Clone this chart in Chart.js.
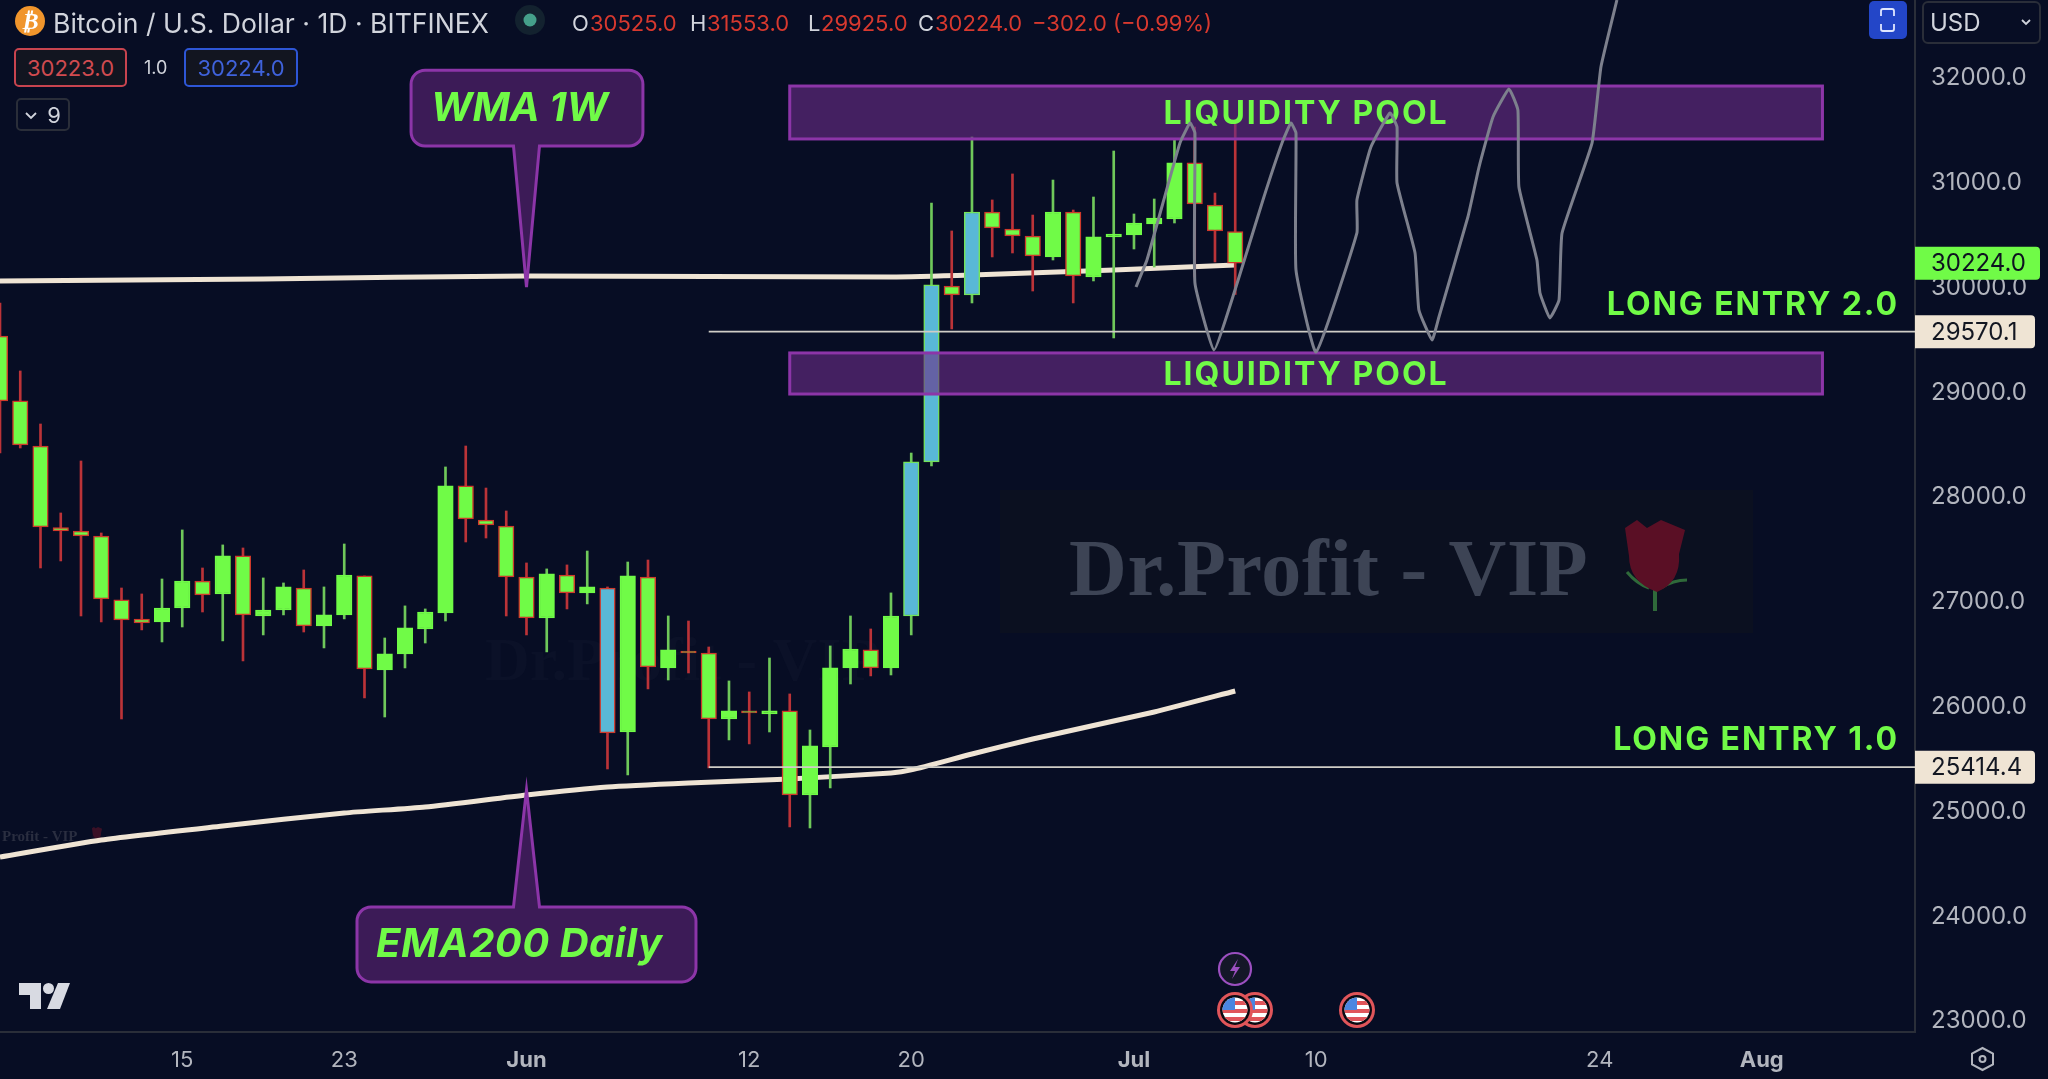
<!DOCTYPE html>
<html><head><meta charset="utf-8">
<script src="https://cdn.jsdelivr.net/npm/chart.js@4/dist/chart.umd.min.js"></script>
<style>
html,body{margin:0;padding:0;background:#070d24;width:2048px;height:1079px;overflow:hidden;font-family:Inter,Roboto,sans-serif}
#c{position:absolute;left:0;top:0}
.t{position:absolute;white-space:nowrap;line-height:1}
.box{position:absolute;box-sizing:border-box;display:flex;align-items:center;justify-content:center}
svg{position:absolute;left:0;top:0;pointer-events:none}
</style></head><body>
<canvas id="c" width="2048" height="1079" style="width:2048px;height:1079px"></canvas>
<div id="hud"></div>
<svg width="2048" height="1079" viewBox="0 0 2048 1079">
 <defs><clipPath id="fc"><circle cx="0" cy="0" r="12.5"/></clipPath>
 <g id="flag">
  <circle r="18" fill="#e0555a"/><circle r="15" fill="#0a0a12"/>
  <g clip-path="url(#fc)"><rect x="-13" y="-13" width="26" height="26" fill="#fff"/>
   <rect x="-13" y="-9" width="26" height="4" fill="#e0555a"/><rect x="-13" y="-1" width="26" height="4" fill="#e0555a"/><rect x="-13" y="7" width="26" height="4" fill="#e0555a"/>
   <rect x="-13" y="-13" width="13" height="13" fill="#4a86e0"/></g>
 </g></defs>
 <circle cx="30" cy="21" r="15" fill="#f0952c"/>
 <circle cx="530" cy="20" r="15" fill="#13222f"/><circle cx="530" cy="20" r="6.5" fill="#45a08a"/>
 <rect x="1869" y="1" width="38" height="38" rx="5" fill="#2346c8"/>
 <path d="M1881 16v-5q0-2 2-2h9q2 0 2 2v5M1881 24v5q0 2 2 2h9q2 0 2-2v-5" fill="none" stroke="#dfe6ff" stroke-width="1.8"/>
 <path d="M2022 20l4 4 4-4" fill="none" stroke="#d1d4dc" stroke-width="1.8"/>
 <path d="M26 113l5 5 5-5" fill="none" stroke="#d1d4dc" stroke-width="1.8"/>
 <path d="M19 983h22v26h-11v-14h-11z" fill="#d8dae2"/><circle cx="48.5" cy="988.5" r="5.5" fill="#d8dae2"/><path d="M58 983h12l-10 26h-13z" fill="#d8dae2"/>
 <use href="#flag" x="1255" y="1010"/><use href="#flag" x="1235" y="1010"/><use href="#flag" x="1357" y="1010"/>
 <circle cx="1235" cy="969" r="16" fill="#141728" stroke="#9b4fc0" stroke-width="2.2"/>
 <path d="M1238 959l-8 12h5l-3 8 8-12h-5z" fill="#9b4fc0"/>
 <path d="M1982.5 1048l10.5 5.5v11l-10.5 5.5-10.5-5.5v-11z" fill="none" stroke="#b2b5be" stroke-width="2"/><circle cx="1982.5" cy="1059" r="3" fill="none" stroke="#b2b5be" stroke-width="2"/>
</svg>
<script>
const candleIndex=[...Array(62).keys()];
const opens=[29529,28909,28479,27700,27668,27620,27010,26828,26800,26933,27191,27067,27430,26857,26914,27124,26762,26867,27239,26342,26495,26733,26886,28098,27773,27716,27229,26838,27248,27077,27124,25750,27229,26361,26523,26504,25874,25951,25922,25951,25149,25607,26361,26533,26361,26857,28327,30006,29920,30712,30550,30483,30283,30712,30092,30474,30493,30598,30645,31180,30779,30525];
const highs=[29844,29195,28689,27840,28336,27649,27124,27067,27210,27678,27315,27535,27506,27220,27172,27296,27134,27544,27239,26647,26953,26924,28279,28479,28078,27859,27363,27306,27344,27477,27134,27372,27391,26857,26809,26561,26237,26132,26456,26113,25769,26571,26857,26733,27077,28412,30798,30531,31428,30827,31075,30683,31017,30731,30855,31294,30693,30836,31399,31523,30893,31553];
const lows=[28412,28460,27315,27382,26857,26800,25874,26724,26609,26752,26895,26619,26428,26676,26867,26704,26552,26829,26075,25893,26361,26599,26809,27563,27601,26857,26676,26514,26924,26972,25397,25340,26161,26246,26313,25407,25674,25636,25750,24844,24834,25216,26208,26285,26294,26676,28288,29596,29844,30283,30321,29958,30254,29844,30054,29510,30359,30187,30607,30092,30235,29925];
const closes=[28909,28489,27706,27668,27620,27019,26819,26790,26933,27191,27058,27430,26867,26914,27134,26762,26867,27248,26351,26495,26743,26895,28098,27783,27725,27229,26838,27258,27077,27134,25741,27239,26370,26533,26504,25874,25951,25932,25951,25149,25617,26361,26542,26361,26857,28327,30016,29920,30712,30559,30483,30292,30712,30101,30474,30502,30607,30655,31180,30788,30531,30224];
const blueCandles=[30,45,46,48];
const emaIndex=[0,5,11,17,21,26,30,34,39,44,45,48,51,57,61];
const emaValues=[24557,24720,24853,24977,25035,25149,25225,25264,25302,25359,25388,25540,25683,25941,26141];
const wmaIndex=[0,13,26,44,48,55,61];
const wmaValues=[30054,30073,30101,30092,30111,30159,30206];
const sketchIndex=[56.1,56.64,57.43,58.27,58.77,59.01,59.01,59.95,60.99,62.37,63.31,63.75,64,64,64.99,67.01,67.01,67.7,68.64,68.99,68.99,69.88,70.07,70.72,71.06,72.49,73.04,73.73,74.52,74.96,75.01,75.9,76.05,76.54,76.99,77.14,78.62,79.06,79.85];
const sketchValues=[29996,30254,30798,31370,31561,31466,30035,29395,29968,30827,31370,31561,31466,30159,29376,30512,30827,31332,31657,31523,30989,30321,29777,29491,29710,30664,31141,31619,31886,31685,30951,30254,29939,29701,29872,30512,31370,32096,32735];
const entryStart=35;
const longEntry2=29570.1, longEntry1=25414.4, lastPrice=30224.0;
const yTicks=[23000,24000,25000,26000,27000,28000,29000,30000,31000,32000];
const xTicks=[9,17,26,37,45,56,65,79,87];
const xLabels=['15','23','Jun','12','20','Jul','10','24','Aug'];
const majorLabels=['Jun','Jul','Aug'];
const pools=[[39,90,31914,31409],[39,90,29367,28975]];
const poolText='LIQUIDITY POOL';
const GREEN='#70fb47',RED='#cf3a2b',BLUE='#59b8d6',GB='#74e35a',CREAM='#efe4d4';
const isUp=i=>closes[i]>=opens[i];
const toPts=(xs,ys)=>xs.map((x,i)=>({x,y:ys[i]}));

const overlay={id:'overlay',
 beforeDatasetsDraw(ch){
  const c=ch.ctx;c.save();
  c.fillStyle='#0b1020';c.fillRect(1000,490,753,143);
  c.fillStyle='#3d4455';c.font='bold 80px "Liberation Serif"';c.textBaseline='alphabetic';c.textAlign='left';
  c.letterSpacing='0.7px';c.fillText('Dr.Profit - VIP',1069,595);c.letterSpacing='0px';
  rose(c,1655,520,1,'#5a0f25','#2f6a3a');
  c.fillStyle='#0b1128';c.font='bold 62px "Liberation Serif"';c.fillText('Dr.Profit - VIP',485,680);
  c.fillStyle='#2a2e40';c.font='bold 15px "Liberation Serif"';c.fillText('Profit - VIP',2,841);
  rose(c,97,827,0.17,'#3a1026','#3a1026');
  c.restore();
 },
 beforeDatasetDraw(ch,a){
  if(ch.data.datasets[a.index].id!=='sketch')return;
  const c=ch.ctx,X=ch.scales.x,Y=ch.scales.y;c.save();
  pools.forEach(p=>{const l=X.getPixelForValue(p[0]),r=X.getPixelForValue(p[1]),t=Y.getPixelForValue(p[2]),b=Y.getPixelForValue(p[3]);
   c.fillStyle='rgba(106,45,135,0.62)';c.fillRect(l,t,r-l,b-t);
   c.strokeStyle='#8c35a8';c.lineWidth=3;c.strokeRect(l,t,r-l,b-t);
   c.fillStyle=GREEN;c.font='700 32px Inter';c.letterSpacing='2px';c.textAlign='center';c.textBaseline='alphabetic';
   c.fillText(poolText,(l+r)/2,(t+b)/2+12);});
  c.restore();
 },
 afterDatasetsDraw(ch){
  const c=ch.ctx,X=ch.scales.x,Y=ch.scales.y;c.save();
  c.fillStyle=GREEN;c.font='700 32px Inter';c.letterSpacing='1.9px';c.textAlign='right';c.textBaseline='alphabetic';
  c.fillText('LONG ENTRY 2.0',1899,315);c.fillText('LONG ENTRY 1.0',1899,750);
  c.letterSpacing='0px';
  callout(c,X,Y,20.3,31.75,32065,31342,26,29996,false,'WMA 1W',0);
  callout(c,X,Y,17.63,34.37,24080,23365,26,25197,true,'EMA200 Daily',0.5);
  c.restore();
 },
 afterDraw(ch){
  const c=ch.ctx,Y=ch.scales.y;c.save();
  tag(c,Y,lastPrice,GREEN,2040,'#0e1220');
  tag(c,Y,longEntry2,CREAM,2035,'#131722');
  tag(c,Y,longEntry1,CREAM,2035,'#131722');
  c.restore();
 }};
function rose(c,x,t,s,red,grn){
 c.save();c.translate(x,t);c.scale(s,s);c.fillStyle=grn;c.fillRect(-2,65,4,26);
 c.strokeStyle=grn;c.lineWidth=3;c.beginPath();c.moveTo(-6,68);c.quadraticCurveTo(-18,64,-28,52);c.moveTo(6,68);c.quadraticCurveTo(18,60,32,60);c.stroke();
 c.fillStyle=red;c.beginPath();c.moveTo(-30,8);c.lineTo(-18,0);c.lineTo(-8,8);c.lineTo(6,0);c.lineTo(30,10);c.lineTo(24,34);c.quadraticCurveTo(26,62,2,72);c.quadraticCurveTo(-26,62,-26,36);c.closePath();c.fill();
 c.restore();
}
function callout(c,X,Y,li,ri,tv,bv,ti,tipV,up,text,sp){
 const l=X.getPixelForValue(li),r=X.getPixelForValue(ri),t=Y.getPixelForValue(tv),b=Y.getPixelForValue(bv),tx=X.getPixelForValue(ti),ty=Y.getPixelForValue(tipV),R=14,w=13;
 c.beginPath();c.moveTo(l+R,t);
 if(up){c.lineTo(tx-w,t);c.lineTo(tx,ty);c.lineTo(tx+w,t);}
 c.lineTo(r-R,t);c.arcTo(r,t,r,t+R,R);c.lineTo(r,b-R);c.arcTo(r,b,r-R,b,R);
 if(!up){c.lineTo(tx+w,b);c.lineTo(tx,ty);c.lineTo(tx-w,b);}
 c.lineTo(l+R,b);c.arcTo(l,b,l,b-R,R);c.lineTo(l,t+R);c.arcTo(l,t,l+R,t,R);c.closePath();
 c.fillStyle='#3c1b57';c.fill();c.strokeStyle='#8c35a8';c.lineWidth=3;c.stroke();
 c.fillStyle=GREEN;c.font='italic 700 40px Inter';c.textBaseline='alphabetic';c.textAlign='left';c.letterSpacing=sp+'px';
 c.fillText(text,up?l+19:l+20,up?b-25:t+51);c.letterSpacing='0px';
}
function tag(c,Y,v,col,right,txt){
 const y=Y.getPixelForValue(v),h=33;
 c.fillStyle=col;c.beginPath();c.roundRect(1915,y-h/2,right-1915,h,[0,4,4,0]);c.fill();
 c.fillStyle=txt;c.font='24px Inter';c.textAlign='left';c.textBaseline='middle';
 c.fillText(v.toFixed(1),1931,y+1);
}

new Chart(document.getElementById('c'),{
 data:{datasets:[
  {id:'ema',type:'line',data:toPts(emaIndex,emaValues),borderColor:CREAM,borderWidth:5,pointRadius:0,tension:0.2,order:50},
  {id:'wma',type:'line',data:toPts(wmaIndex,wmaValues),borderColor:CREAM,borderWidth:5,pointRadius:0,tension:0.2,order:50},
  {id:'wicks',type:'bar',grouped:false,barThickness:2,data:candleIndex.map(i=>({x:i,y:[lows[i],highs[i]]})),
   backgroundColor:candleIndex.map(i=>isUp(i)?'#6fc85a':'#bb3338'),borderWidth:0,order:40},
  {id:'bodies',type:'bar',grouped:false,barThickness:15.5,data:candleIndex.map(i=>({x:i,y:[opens[i],closes[i]]})),
   backgroundColor:candleIndex.map(i=>blueCandles.includes(i)?BLUE:GREEN),
   borderColor:candleIndex.map(i=>isUp(i)?(blueCandles.includes(i)?GB:GREEN):RED),borderWidth:1.5,borderSkipped:false,order:30},
  {id:'entry2',type:'line',data:toPts([entryStart,94.57],[longEntry2,longEntry2]),borderColor:'#cfcdc6',borderWidth:1.6,pointRadius:0,order:20},
  {id:'entry1',type:'line',data:toPts([entryStart,94.57],[longEntry1,longEntry1]),borderColor:'#cfcdc6',borderWidth:1.6,pointRadius:0,order:20},
  {id:'sketch',type:'line',data:toPts(sketchIndex,sketchValues),borderColor:'#7d808d',borderWidth:3,pointRadius:0,tension:0.12,order:10}
 ]},
 options:{responsive:false,animation:false,devicePixelRatio:1,
  layout:{padding:0},
  plugins:{legend:{display:false},tooltip:{enabled:false}},
  scales:{
   x:{type:'linear',min:0,max:94.57,offset:false,position:'bottom',
    afterBuildTicks(s){s.ticks=xTicks.map(v=>({value:v}));},
    afterFit(s){s.height=47;s.paddingLeft=0;s.paddingRight=0;s.paddingTop=0;s.paddingBottom=0;},
    border:{display:true,color:'#2a2e39',width:2},grid:{display:false,offset:false},
    ticks:{autoSkip:false,maxRotation:0,padding:7,color:'#b2b5be',
     callback:v=>xLabels[xTicks.indexOf(v)],
     font:ctx=>({family:'Inter',size:22,weight:majorLabels.includes(ctx.tick&&xLabels[xTicks.indexOf(ctx.tick.value)])?'700':'400'})}},
   y:{type:'linear',position:'right',min:22887,max:32735,
    afterBuildTicks(s){s.ticks=yTicks.map(v=>({value:v}));},
    afterFit(s){s.width=133;s.paddingTop=0;s.paddingBottom=0;s.paddingLeft=0;s.paddingRight=0;},
    border:{display:true,color:'#2a2e39',width:2},grid:{display:false},
    ticks:{padding:8,labelOffset:1,color:'#b2b5be',font:{family:'Inter',size:24},callback:v=>v.toFixed(1)}}
  }},
 plugins:[overlay]
});

const hud=document.getElementById('hud');
function t(s,x,y,size,col,extra){const d=document.createElement('div');d.className='t';d.textContent=s;d.style.cssText=`left:${x}px;top:${y}px;font-size:${size}px;color:${col};${extra||''}`;hud.appendChild(d);return d;}
function b(s,x,y,w,h,bord,col,size){const d=document.createElement('div');d.className='box';d.textContent=s;d.style.cssText=`left:${x}px;top:${y}px;width:${w}px;height:${h}px;border:2px solid ${bord};border-radius:5px;background:#121520;color:${col};font-size:${size}px`;hud.appendChild(d);}
const TXT='#d1d4dc',RD='#d8392f';
t('₿',21,9,24,'#fff','font-weight:700;font-style:italic;font-family:"DejaVu Sans";z-index:2');
t('Bitcoin / U.S. Dollar · 1D · BITFINEX',53,10,26.6,TXT);
[['O',572,TXT],['30525.0',590,RD],['H',690,TXT],['31553.0',707,RD],['L',808,TXT],['29925.0',821,RD],['C',918,TXT],['30224.0',935,RD],['−302.0 (−0.99%)',1032,RD]].forEach(a=>t(a[0],a[1],12,22,a[2]));
b('30223.0',14,48,113,39,'#c8444f','#d04b50',22);
t('1.0',144,59,18,TXT);
b('30224.0',184,48,114,39,'#2e56d6','#3f62db',22);
const ch=document.createElement('div');ch.className='box';ch.textContent='9';ch.style.cssText='left:16px;top:98px;width:54px;height:33px;border:2px solid #2a2e39;border-radius:5px;color:#d1d4dc;font-size:22px;padding-left:22px';hud.appendChild(ch);
const usd=document.createElement('div');usd.className='box';usd.textContent='USD';usd.style.cssText='left:1922px;top:1px;width:119px;height:43px;border:2px solid #2a2e39;border-radius:6px;color:#d1d4dc;font-size:24px;justify-content:flex-start;padding-left:6px';hud.appendChild(usd);
</script>
</body></html>
